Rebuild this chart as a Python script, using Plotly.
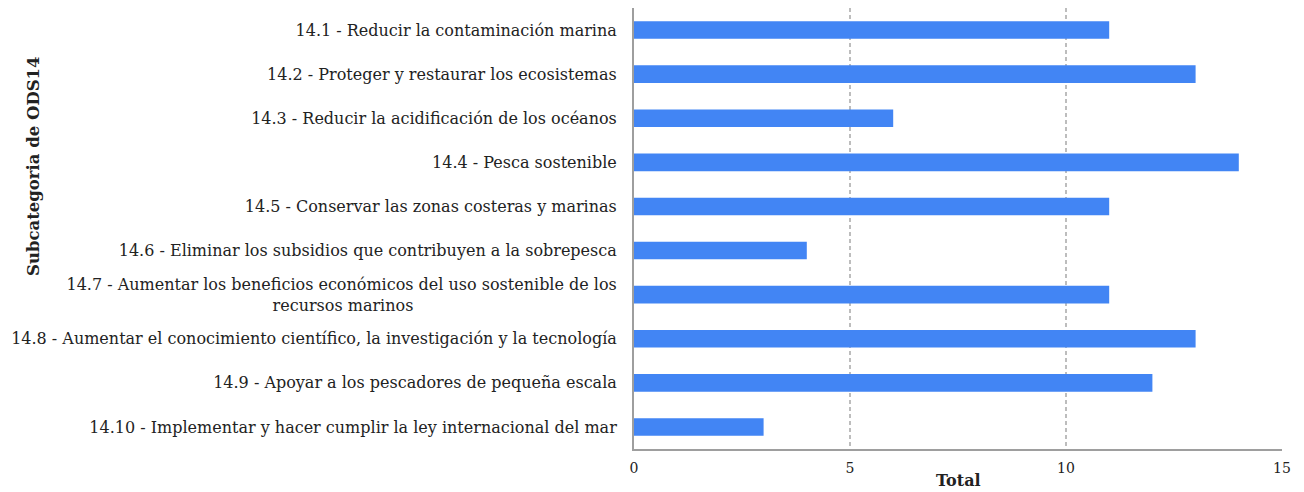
import plotly.graph_objects as go

categories = [
    "14.1 - Reducir la contaminación marina",
    "14.2 - Proteger y restaurar los ecosistemas",
    "14.3 - Reducir la acidificación de los océanos",
    "14.4 - Pesca sostenible",
    "14.5 - Conservar las zonas costeras y marinas",
    "14.6 - Eliminar los subsidios que contribuyen a la sobrepesca",
    "14.7 - Aumentar los beneficios económicos del uso sostenible de los<br>recursos marinos" + "&nbsp;" * 40,
    "14.8 - Aumentar el conocimiento científico, la investigación y la tecnología",
    "14.9 - Apoyar a los pescadores de pequeña escala",
    "14.10 - Implementar y hacer cumplir la ley internacional del mar",
]
totals = [11, 13, 6, 14, 11, 4, 11, 13, 12, 3]
x_ticks = [0, 5, 10, 15]

FONT = "Georgia, 'DejaVu Serif', serif"

fig = go.Figure(go.Bar(
    y=list(range(len(categories))),
    x=totals,
    orientation="h",
    marker=dict(color="#4285F4", line=dict(width=0)),
    width=0.4,
))

fig.update_layout(
    width=1304, height=492,
    margin=dict(l=626, r=30, t=0, b=51, autoexpand=False),
    plot_bgcolor="white", paper_bgcolor="white",
    font=dict(family=FONT, size=16, color="#222222"),
    showlegend=False,
)
fig.update_yaxes(
    tickmode="array",
    tickvals=list(range(len(categories))),
    ticktext=categories,
    autorange="reversed",
    showline=True, linecolor="#9e9e9e", linewidth=2,
    showgrid=False, ticks="", ticklabelstandoff=12,
    tickfont=dict(size=16, color="#222222"),
    automargin=False,
)
fig.update_xaxes(
    range=[0, 15],
    tickmode="array", tickvals=x_ticks, ticktext=[str(v) for v in x_ticks],
    showline=True, linecolor="#9e9e9e", linewidth=2,
    showgrid=True, gridcolor="#bdbdbd", griddash="4px,3px", gridwidth=1.5,
    zeroline=False, ticks="", ticklabelstandoff=5,
    tickfont=dict(size=14, color="#222222"),
    automargin=False,
)
fig.add_annotation(
    text="<b>Total</b>", xref="paper", yref="paper", x=0.5, y=0,
    yshift=-31, xanchor="center", yanchor="middle", showarrow=False,
    font=dict(size=16, color="#222222", family=FONT),
)
fig.add_annotation(
    text="<b>Subcategoria de ODS14</b>", xref="paper", yref="paper",
    x=0, xshift=-601, y=(441 - 158) / 441, textangle=-90,
    xanchor="center", yanchor="middle", showarrow=False,
    font=dict(size=16.5, color="#222222", family=FONT),
)

fig.write_html("out.html")
